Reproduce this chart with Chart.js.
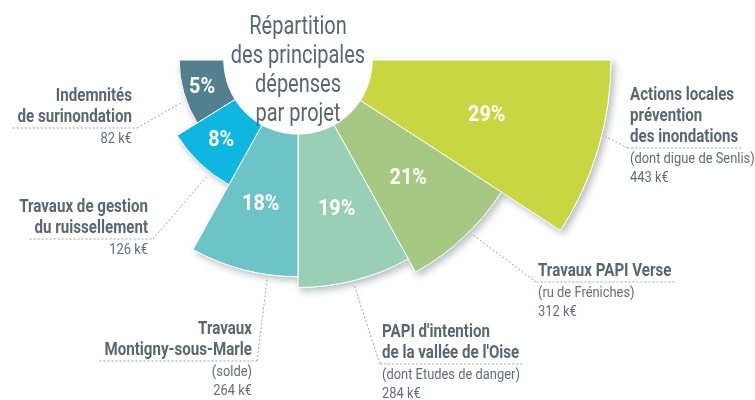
<!DOCTYPE html>
<html>
<head>
<meta charset="utf-8">
<script src="https://cdn.jsdelivr.net/npm/chart.js@4.4.1/dist/chart.umd.min.js"></script>
<style>
  body { margin: 0; background: #fff; }
</style>
</head>
<body>
<canvas id="myChart" width="755" height="400"></canvas>
<script>
// Chart data
const categories = [
    'Actions locales prévention des inondations',
    'Travaux PAPI Verse',
    "PAPI d'intention de la vallée de l'Oise",
    'Travaux Montigny-sous-Marle',
    'Travaux de gestion du ruissellement',
    'Indemnités de surinondation'
];
const amounts = [443, 312, 284, 264, 126, 82];   // k€
const percents = [29, 21, 19, 18, 8, 5];
const sliceAngles = [33, 28, 29, 29, 29, 32];    // degrees, half disc
const amountLabels = ['443 k€', '312 k€', '284 k€', '264 k€', '126 k€', '82 k€'];
const titleLines = ['Répartition', 'des principales', 'dépenses', 'par projet'];
const colors = ['#c8d642', '#a5c982', '#98cfb5', '#6cc4c7', '#0fb6e0', '#52808f'];

// Callout text per segment (same order as the data)
const calloutTitles = [
    ['Actions locales', 'prévention', 'des inondations'],
    ['Travaux PAPI Verse'],
    ["PAPI d'intention", "de la vallée de l'Oise"],
    ['Travaux', 'Montigny-sous-Marle'],
    ['Travaux de gestion', 'du ruissellement'],
    ['Indemnités', 'de surinondation']
];
const calloutNotes = [
    ['(dont digue de Senlis)'],
    ['(ru de Fréniches)'],
    ['(dont Etudes de danger)'],
    ['(solde)'],
    [],
    []
];

// where each callout block sits and where its leader touches the segment
const calloutLayout = [
    { x: 630, y: 95, align: 'left', angle: 14 },
    { x: 538, y: 271, align: 'left', angle: 45 },
    { x: 382, y: 332, align: 'left', angle: 76 },
    { x: 252, y: 329, align: 'right', angle: 98 },
    { x: 148, y: 207, align: 'right', angle: 128 },
    { x: 132, y: 96, align: 'right', angle: 160 }
];

const FONT = 'Roboto, "DejaVu Sans", sans-serif';

function drawText(ctx, txt, x, y, font, color, align, sx) {
    ctx.save();
    ctx.font = font;
    ctx.fillStyle = color;
    ctx.textAlign = align;
    ctx.textBaseline = 'middle';
    ctx.translate(x, y);
    ctx.scale(sx, 1);
    ctx.fillText(txt, 0, 0);
    const w = ctx.measureText(txt).width * sx;
    ctx.restore();
    return w;
}

function dashedLine(ctx, pts) {
    ctx.save();
    ctx.strokeStyle = '#9ba2a8';
    ctx.lineWidth = 1;
    ctx.setLineDash([2, 2]);
    ctx.beginPath();
    ctx.moveTo(pts[0][0], pts[0][1]);
    for (let i = 1; i < pts.length; i++) ctx.lineTo(pts[i][0], pts[i][1]);
    ctx.stroke();
    ctx.restore();
}

// Put the half disc where it is in the picture
const centerPlugin = {
    id: 'centerPlugin',
    beforeDatasetsUpdate(chart) {
        const s = chart.scales.r;
        s.xCenter = 298;
        s.yCenter = 60;
        s.drawingArea = 313;
    }
};

// Soft shadow under the segments
const shadowPlugin = {
    id: 'shadowPlugin',
    beforeDatasetsDraw(chart) {
        const ctx = chart.ctx;
        const meta = chart.getDatasetMeta(0);
        ctx.save();
        ctx.shadowColor = 'rgba(60, 75, 85, 0.35)';
        ctx.shadowBlur = 7;
        ctx.shadowOffsetX = 3;
        ctx.shadowOffsetY = 3;
        meta.data.forEach(arc => arc.draw(ctx, chart.chartArea));
        ctx.restore();
    }
};

const labelsPlugin = {
    id: 'labelsPlugin',
    afterDatasetsDraw(chart) {
        const ctx = chart.ctx;
        const s = chart.scales.r;
        const cx = s.xCenter, cy = s.yCenter;
        const inner = s.getDistanceFromCenterForValue(0);

        // white hole with the title
        ctx.save();
        ctx.fillStyle = '#fff';
        ctx.beginPath();
        ctx.arc(cx, cy, inner, 0, Math.PI * 2);
        ctx.fill();
        ctx.restore();
        titleLines.forEach((t, i) => {
            drawText(ctx, t, cx, cy - 32 + i * 29, '400 25px ' + FONT, '#5a6770', 'center', 0.8);
        });

        const meta = chart.getDatasetMeta(0);
        meta.data.forEach((arc, i) => {
            const p = arc.getProps(['startAngle', 'endAngle', 'outerRadius']);
            const mid = (p.startAngle + p.endAngle) / 2;
            const r = (inner + p.outerRadius) / 2 + 3;
            drawText(ctx, percents[i] + '%', cx + Math.cos(mid) * r, cy + Math.sin(mid) * r,
                '700 22px ' + FONT, '#ffffff', 'center', 0.9);

            // callout
            const lay = calloutLayout[i];
            const left = lay.align === 'left';
            const bold = calloutTitles[i];
            let y = lay.y;
            let lastW = 0;
            bold.forEach((t, k) => {
                if (k > 0) y += 21;
                lastW = drawText(ctx, t, lay.x, y, '700 18px ' + FONT, '#5b6670', lay.align, 0.84);
            });
            const lineY = y + 11;
            const nearX = left ? lay.x - 2 : lay.x + 5;
            const farX = left ? lay.x + lastW + 3 : lay.x - lastW - 5;
            dashedLine(ctx, [[farX, lineY], [nearX, lineY]]);
            const a = lay.angle * Math.PI / 180;
            const rr = p.outerRadius + 4;
            dashedLine(ctx, [[nearX, lineY], [cx + Math.cos(a) * rr, cy + Math.sin(a) * rr]]);

            let ny = lineY + 11;
            calloutNotes[i].concat([amountLabels[i]]).forEach(t => {
                drawText(ctx, t, lay.x, ny, '400 15px ' + FONT, '#636e77', lay.align, 0.86);
                ny += 19;
            });
        });
    }
};

function createExpenseChart() {
    const ctx = document.getElementById('myChart');
    new Chart(ctx, {
        type: 'polarArea',
        data: {
            labels: categories,
            datasets: [{
                data: amounts,
                backgroundColor: colors,
                borderColor: '#ffffff',
                borderWidth: 1,
                angle: sliceAngles
            }]
        },
        options: {
            responsive: false,
            animation: false,
            plugins: {
                legend: { display: false },
                tooltip: { enabled: false }
            },
            scales: {
                r: {
                    min: -139,
                    max: 443,
                    startAngle: 90,
                    ticks: { display: false },
                    grid: { display: false },
                    angleLines: { display: false },
                    pointLabels: { display: false }
                }
            }
        },
        plugins: [centerPlugin, shadowPlugin, labelsPlugin]
    });
}

document.addEventListener("DOMContentLoaded", function () {
    createExpenseChart();
});
</script>
</body>
</html>
